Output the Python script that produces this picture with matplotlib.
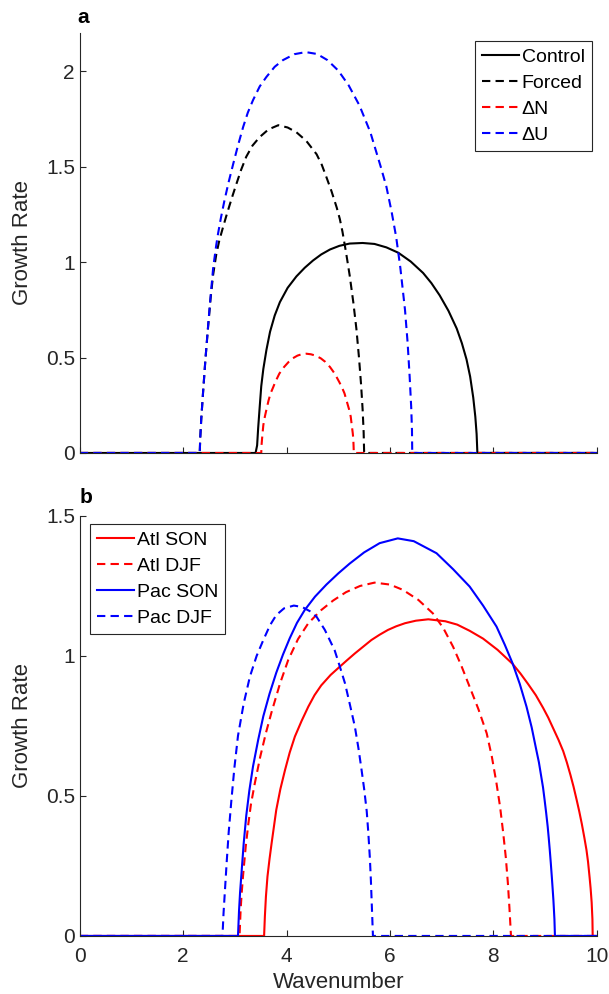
import matplotlib
matplotlib.use('Agg')
import matplotlib.pyplot as plt

plt.rcParams['font.family'] = ['Liberation Sans', 'DejaVu Sans']

# panel a: growth rate vs wavenumber
k_control = [0, 3.40, 3.43, 3.45, 3.48, 3.51, 3.55, 3.61, 3.68, 3.77,
             3.87, 4.02, 4.19, 4.35, 4.51, 4.67, 4.84, 5.02, 5.22, 5.47,
             5.70, 5.93, 6.16, 6.40, 6.64, 6.80, 6.96, 7.13, 7.29, 7.39,
             7.48, 7.55, 7.61, 7.65, 7.675, 7.69, 10]
g_control = [0, 0, 0.04, 0.13, 0.242, 0.35, 0.44, 0.54, 0.635, 0.72,
             0.79, 0.865, 0.925, 0.97, 1.008, 1.04, 1.066, 1.085, 1.097, 1.10,
             1.095, 1.077, 1.049, 1.003, 0.943, 0.89, 0.826, 0.745, 0.652, 0.575,
             0.49, 0.40, 0.29, 0.19, 0.10, 0, 0]

k_forced = [0, 2.32, 2.33, 2.35, 2.385, 2.43, 2.48, 2.53, 2.58, 2.64,
            2.70, 2.77, 2.83, 2.90, 2.96, 3.03, 3.12, 3.22, 3.34, 3.48,
            3.65, 3.84, 4.02, 4.19, 4.38, 4.58, 4.68, 4.77, 4.87, 4.97,
            5.03, 5.08, 5.15, 5.22, 5.29, 5.35, 5.40, 5.44, 5.47, 5.49,
            5.50, 10]
g_forced = [0, 0, 0.08, 0.18, 0.32, 0.49, 0.655, 0.81, 0.935, 1.04,
            1.115, 1.182, 1.238, 1.30, 1.352, 1.41, 1.483, 1.552, 1.61, 1.655,
            1.695, 1.717, 1.705, 1.68, 1.635, 1.565, 1.51, 1.445, 1.37, 1.285,
            1.225, 1.16, 1.05, 0.93, 0.79, 0.65, 0.50, 0.36, 0.23, 0.11,
            0, 0]

k_dn = [0, 3.51, 3.515, 3.525, 3.535, 3.55, 3.58, 3.61, 3.65, 3.69,
        3.74, 3.78, 3.86, 3.95, 4.04, 4.12, 4.21, 4.29, 4.38, 4.47,
        4.56, 4.66, 4.75, 4.84, 4.93, 5.02, 5.07, 5.12, 5.16, 5.21,
        5.24, 5.26, 5.28, 5.29, 5.295, 5.30, 10]
g_dn = [0, 0, 0.04, 0.073, 0.103, 0.146, 0.191, 0.227, 0.274, 0.312,
        0.344, 0.371, 0.416, 0.45, 0.477, 0.496, 0.51, 0.517, 0.52, 0.517,
        0.51, 0.496, 0.477, 0.45, 0.416, 0.371, 0.344, 0.312, 0.274, 0.227,
        0.191, 0.146, 0.103, 0.073, 0.04, 0, 0]

k_du = [0, 2.32, 2.33, 2.35, 2.385, 2.43, 2.48, 2.53, 2.58, 2.64,
        2.675, 2.73, 2.80, 2.88, 2.97, 3.06, 3.16, 3.25, 3.35, 3.48,
        3.61, 3.77, 3.93, 4.15, 4.37, 4.59, 4.79, 5.00, 5.20, 5.41,
        5.62, 5.82, 5.93, 6.03, 6.12, 6.20, 6.29, 6.34, 6.38, 6.41,
        6.425, 6.43, 10]
g_du = [0, 0, 0.08, 0.18, 0.32, 0.49, 0.66, 0.82, 0.97, 1.09,
        1.15, 1.232, 1.325, 1.42, 1.517, 1.611, 1.708, 1.783, 1.848, 1.92,
        1.97, 2.023, 2.058, 2.089, 2.10, 2.09, 2.058, 2.003, 1.926, 1.82,
        1.68, 1.50, 1.395, 1.265, 1.13, 0.97, 0.75, 0.58, 0.40, 0.24,
        0.12, 0, 0]

# panel b
k_atl_son = [0, 3.565, 3.58, 3.60, 3.63, 3.67, 3.71, 3.80, 3.88, 3.97,
             4.06, 4.16, 4.29, 4.42, 4.54, 4.67, 4.85, 5.03, 5.17, 5.32,
             5.48, 5.64, 5.80, 5.96, 6.12, 6.29, 6.50, 6.74, 7.07, 7.30,
             7.54, 7.80, 8.08, 8.37, 8.52, 8.67, 8.82, 8.96, 9.06, 9.16,
             9.26, 9.35, 9.42, 9.49, 9.55, 9.61, 9.66, 9.71, 9.76, 9.80,
             9.83, 9.86, 9.88, 9.90, 9.915, 9.92, 10]
g_atl_son = [0, 0, 0.07, 0.14, 0.212, 0.275, 0.331, 0.45, 0.525, 0.593,
             0.655, 0.712, 0.768, 0.819, 0.86, 0.895, 0.932, 0.962, 0.985, 1.009,
             1.033, 1.057, 1.076, 1.093, 1.106, 1.117, 1.126, 1.131, 1.124, 1.112,
             1.09, 1.062, 1.022, 0.972, 0.938, 0.90, 0.86, 0.815, 0.78, 0.74,
             0.70, 0.66, 0.62, 0.575, 0.533, 0.486, 0.445, 0.40, 0.35, 0.307,
             0.265, 0.21, 0.17, 0.12, 0.06, 0, 0]

k_atl_djf = [0, 3.09, 3.11, 3.13, 3.16, 3.21, 3.26, 3.31, 3.385, 3.49,
             3.60, 3.71, 3.87, 4.03, 4.22, 4.42, 4.67, 4.90, 5.15, 5.42,
             5.70, 6.00, 6.25, 6.55, 6.83, 7.03, 7.22, 7.38, 7.54, 7.71,
             7.87, 7.97, 8.06, 8.13, 8.19, 8.24, 8.28, 8.31, 8.34, 10]
g_atl_djf = [0, 0, 0.09, 0.15, 0.22, 0.32, 0.40, 0.47, 0.545, 0.64,
             0.725, 0.80, 0.90, 0.985, 1.06, 1.117, 1.164, 1.198, 1.228, 1.25,
             1.262, 1.255, 1.236, 1.20, 1.152, 1.10, 1.033, 0.965, 0.89, 0.81,
             0.724, 0.64, 0.545, 0.46, 0.367, 0.28, 0.188, 0.10, 0, 0]

k_pac_son = [0, 3.06, 3.08, 3.10, 3.13, 3.17, 3.22, 3.28, 3.35, 3.45,
             3.55, 3.67, 3.80, 3.93, 4.06, 4.20, 4.35, 4.55, 4.77, 5.00,
             5.22, 5.50, 5.80, 6.15, 6.46, 6.90, 7.22, 7.54, 7.80, 8.06,
             8.22, 8.37, 8.51, 8.64, 8.74, 8.83, 8.88, 8.92, 8.96, 8.99,
             9.02, 9.05, 9.07, 9.09, 9.11, 9.13, 9.145, 9.16, 9.17, 9.18,
             9.19, 10]
g_pac_son = [0, 0, 0.09, 0.155, 0.23, 0.33, 0.43, 0.52, 0.605, 0.70,
             0.785, 0.865, 0.94, 1.005, 1.063, 1.118, 1.164, 1.212, 1.255, 1.295,
             1.33, 1.37, 1.403, 1.42, 1.41, 1.367, 1.31, 1.248, 1.18, 1.105,
             1.04, 0.974, 0.90, 0.819, 0.745, 0.664, 0.62, 0.575, 0.53, 0.486,
             0.44, 0.39, 0.35, 0.307, 0.26, 0.21, 0.17, 0.129, 0.095, 0.06,
             0, 0]

k_pac_djf = [0, 2.76, 2.78, 2.81, 2.84, 2.88, 2.93, 2.99, 3.06, 3.17,
             3.29, 3.42, 3.55, 3.68, 3.80, 3.95, 4.14, 4.30, 4.45, 4.58,
             4.74, 4.93, 5.03, 5.13, 5.22, 5.32, 5.39, 5.45, 5.50, 5.55,
             5.58, 5.61, 5.63, 5.65, 5.67, 10]
g_pac_djf = [0, 0, 0.08, 0.17, 0.26, 0.37, 0.48, 0.60, 0.715, 0.83,
             0.926, 1.0, 1.057, 1.11, 1.146, 1.17, 1.18, 1.175, 1.16, 1.14,
             1.093, 1.02, 0.962, 0.902, 0.83, 0.748, 0.67, 0.593, 0.525, 0.445,
             0.37, 0.28, 0.20, 0.10, 0, 0]

xticks = [0, 2, 4, 6, 8, 10]
yticks_a = [0, 0.5, 1, 1.5, 2]
ylabels_a = ['0', '0.5', '1', '1.5', '2']
yticks_b = [0, 0.5, 1, 1.5]
ylabels_b = ['0', '0.5', '1', '1.5']

axcol = '#262626'
lw = 1.5
dash = (0, (4, 2.5))


def style(ax):
    for s in ['top', 'right']:
        ax.spines[s].set_visible(False)
    for s in ['left', 'bottom']:
        ax.spines[s].set_color(axcol)
        ax.spines[s].set_linewidth(0.8)
    ax.tick_params(direction='in', length=4, width=0.8, colors=axcol,
                   labelsize=15, labelcolor=axcol)
    ax.tick_params(axis='x', pad=8)
    ax.set_xlim(0, 10)
    ax.set_xticks(xticks)


def legend(ax, **kw):
    leg = ax.legend(fontsize=14, handlelength=1.9, handletextpad=0.15,
                    borderpad=0.35, labelspacing=0.43, borderaxespad=0,
                    fancybox=False, framealpha=1, **kw)
    leg.get_frame().set_edgecolor(axcol)
    leg.get_frame().set_linewidth(0.8)


fig = plt.figure(figsize=(6.09, 9.94), dpi=100)
ax1 = fig.add_axes([0.131, 0.5443, 0.849, 0.4225])
ax2 = fig.add_axes([0.131, 0.0584, 0.849, 0.4225])

ax1.plot(k_control, g_control, color='k', lw=lw, label='Control')
ax1.plot(k_forced, g_forced, color='k', lw=lw, ls=dash, label='Forced')
ax1.plot(k_dn, g_dn, color='r', lw=lw, ls=dash, label='ΔN')
ax1.plot(k_du, g_du, color='b', lw=lw, ls=dash, label='ΔU')
style(ax1)
ax1.set_ylim(0, 2.2)
ax1.set_yticks(yticks_a)
ax1.set_yticklabels(ylabels_a)
ax1.set_xticklabels([])
ax1.set_ylabel('Growth Rate', fontsize=16, color=axcol, labelpad=9)
ax1.text(-0.004, 1.038, 'a', transform=ax1.transAxes, fontsize=15,
         fontweight='bold', va='center', ha='left')
legend(ax1, loc='upper right', bbox_to_anchor=(0.99, 0.98))

ax2.plot(k_atl_son, g_atl_son, color='r', lw=lw, label='Atl SON')
ax2.plot(k_atl_djf, g_atl_djf, color='r', lw=lw, ls=dash, label='Atl DJF')
ax2.plot(k_pac_son, g_pac_son, color='b', lw=lw, label='Pac SON')
ax2.plot(k_pac_djf, g_pac_djf, color='b', lw=lw, ls=dash, label='Pac DJF')
style(ax2)
ax2.set_ylim(0, 1.5)
ax2.set_yticks(yticks_b)
ax2.set_yticklabels(ylabels_b)
ax2.set_xlabel('Wavenumber', fontsize=16, color=axcol, labelpad=4)
ax2.set_ylabel('Growth Rate', fontsize=16, color=axcol, labelpad=9)
ax2.text(0.0, 1.043, 'b', transform=ax2.transAxes, fontsize=15,
         fontweight='bold', va='center', ha='left')
legend(ax2, loc='upper left', bbox_to_anchor=(0.02, 0.98))

fig.savefig('out.png', dpi=100)
